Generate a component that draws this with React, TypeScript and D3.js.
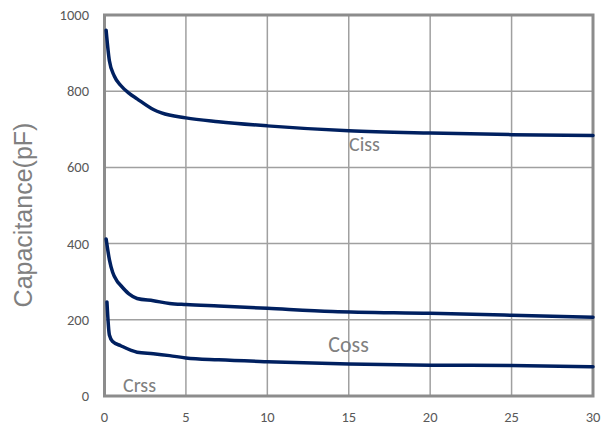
import React from "react";
import * as d3 from "d3";

const xTicks = [0, 5, 10, 15, 20, 25, 30];
const yTicks = [0, 200, 400, 600, 800, 1000];

const cissX = [0.1, 0.3, 0.6, 1, 1.5, 2, 3, 3.5, 5, 7, 10, 15, 20, 25, 30];
const cissY = [960, 880, 840, 815, 795, 780, 752, 743, 730, 720, 709, 696, 690, 686, 684];

const cossX = [0.1, 0.3, 0.5, 0.75, 1, 1.5, 2, 3, 4, 5, 7, 10, 14, 20, 25, 30];
const cossY = [412, 358, 325, 303, 290, 268, 256, 250, 243, 240, 236, 230, 222, 217, 212, 207];

const crssX = [0.15, 0.3, 0.5, 1, 2, 3, 4, 5, 7, 10, 15, 20, 25, 30];
const crssY = [247, 160, 143, 132, 115, 111, 106, 100, 95, 90, 84, 81, 80, 77];

const labels = ["Ciss", "Coss", "Crss"];

export default function App() {
  const W = 613, H = 436;
  const x = d3.scaleLinear().domain([0, 30]).range([104.5, 593]);
  const y = d3.scaleLinear().domain([0, 1000]).range([396, 15]);
  const line = d3
    .line<[number, number]>()
    .x((d) => x(d[0]))
    .y((d) => y(d[1]))
    .curve(d3.curveMonotoneX);
  const series = [
    cissX.map((v, i) => [v, cissY[i]] as [number, number]),
    cossX.map((v, i) => [v, cossY[i]] as [number, number]),
    crssX.map((v, i) => [v, crssY[i]] as [number, number]),
  ];
  const labelStyle = [
    { cx: 364.5, by: 151, fs: 20 },
    { cx: 348.5, by: 352, fs: 22 },
    { cx: 139.5, by: 392, fs: 20 },
  ];
  const font = "Carlito, 'Open Sans', 'Liberation Sans', sans-serif";
  return (
    <svg width={W} height={H} style={{ position: "absolute", left: 0, top: 0, background: "#fff" }}>
      {xTicks.slice(1, -1).map((t) => (
        <line key={"gx" + t} x1={x(t)} x2={x(t)} y1={y(0)} y2={y(1000)} stroke="#a0a0a0" strokeWidth={1.5} />
      ))}
      {yTicks.slice(1, -1).map((t) => (
        <line key={"gy" + t} x1={x(0)} x2={x(30)} y1={y(t)} y2={y(t)} stroke="#a0a0a0" strokeWidth={1.5} />
      ))}
      <rect x={x(0)} y={y(1000)} width={x(30) - x(0)} height={y(0) - y(1000)} fill="none" stroke="#8c8c8c" strokeWidth={3} />
      {series.map((s, i) => (
        <path key={i} d={line(s) || ""} fill="none" stroke="#002060" strokeWidth={3.5} strokeLinecap="round" />
      ))}
      {labels.map((l, i) => (
        <text key={l} x={labelStyle[i].cx} y={labelStyle[i].by} fill="#808080" fontSize={labelStyle[i].fs} fontFamily={font} textAnchor="middle">
          {l}
        </text>
      ))}
      {yTicks.map((t) => (
        <text key={"yl" + t} x={89} y={y(t)} dy="0.35em" textAnchor="end" fill="#595959" fontSize={14.5} fontFamily={font}>
          {t}
        </text>
      ))}
      {xTicks.map((t) => (
        <text key={"xl" + t} x={x(t)} y={422} textAnchor="middle" fill="#595959" fontSize={14.5} fontFamily={font}>
          {t}
        </text>
      ))}
      <text transform="translate(32,215) rotate(-90)" textAnchor="middle" fill="#808080" fontSize={25} fontFamily="'Liberation Sans', Arial, sans-serif">
        Capacitance(pF)
      </text>
    </svg>
  );
}
